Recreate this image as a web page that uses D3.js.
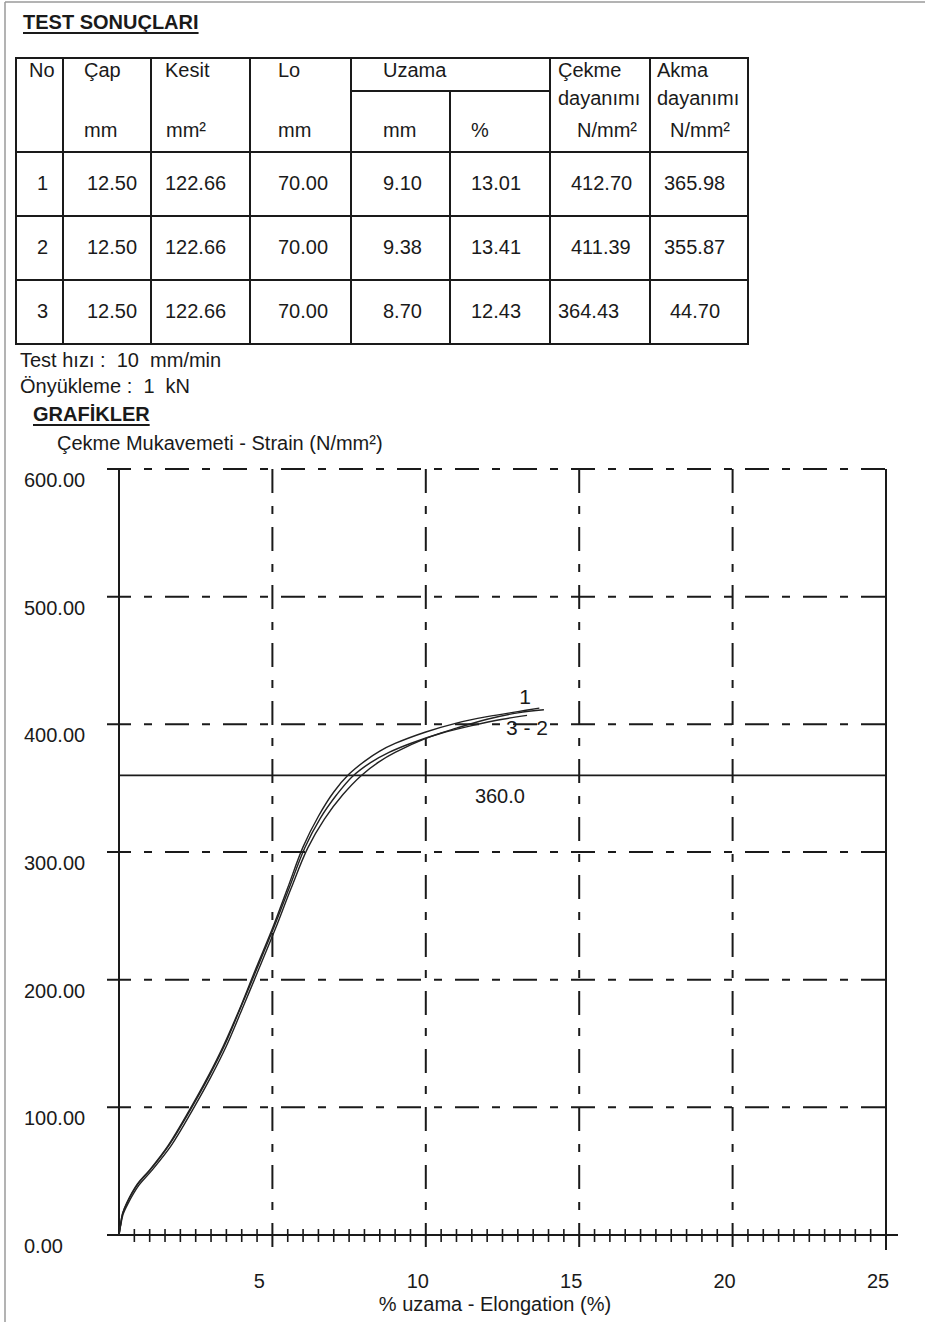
<!DOCTYPE html>
<html>
<head>
<meta charset="utf-8">
<script src="https://cdn.jsdelivr.net/npm/d3@7"></script>
<style>
  html, body { margin: 0; padding: 0; background: #fff; }
  svg { display: block; font-family: "Liberation Sans", Arial, sans-serif; }
</style>
</head>
<body>
<svg id="page" width="925" height="1322"></svg>
<script>
// ---- Test results table ----
const specimenNo   = ["1", "2", "3"];
const diameterMm   = ["12.50", "12.50", "12.50"];
const sectionMm2   = ["122.66", "122.66", "122.66"];
const gaugeLenMm   = ["70.00", "70.00", "70.00"];
const elongMm      = ["9.10", "9.38", "8.70"];
const elongPct     = ["13.01", "13.41", "12.43"];
const tensileStr   = ["412.70", "411.39", "364.43"];
const yieldStr     = ["365.98", "355.87", "44.70"];

// ---- Chart axes ----
const yTicks = [0, 100, 200, 300, 400, 500, 600];
const xTicks = [5, 10, 15, 20, 25];
const refLineValue = 360;

// ---- Stress (N/mm²) vs elongation (%) curves ----
const curve1 = [[0,0],[0.05,8],[0.12,17],[0.25,25],[0.6,40],[1.0,51],[1.6,70],[2.3,98],[2.9,124],[3.4,148],[4.0,181],[4.4,205],[5.0,240],[5.5,272],[6.0,304],[6.5,328],[7.0,347],[7.5,361],[8.0,371],[8.5,379],[9.0,385],[10.0,394],[11.0,401],[12.0,406],[13.0,410],[13.7,412.7]];
const curve2 = [[0,0],[0.05,7],[0.13,16],[0.28,24],[0.65,39],[1.05,50],[1.7,70],[2.4,98],[3.0,124],[3.5,148],[4.1,182],[4.5,205],[5.1,240],[5.6,271],[6.15,303],[6.7,326],[7.3,345],[7.9,360],[8.5,371],[9.0,378],[10.0,389],[11.0,397],[12.0,404],[13.0,409],[13.85,411.4]];
const curve3 = [[0,0],[0.05,8],[0.12,17],[0.26,25],[0.62,40],[1.02,51],[1.65,71],[2.35,99],[2.95,125],[3.45,149],[4.05,183],[4.45,206],[5.05,241],[5.55,272],[6.05,303],[6.55,326],[7.1,345],[7.6,359],[8.2,370],[8.8,378],[9.5,385],[10.5,393],[11.5,399],[12.5,404],[13.3,407]];

const svg = d3.select("#page");
const ink = "#1a1a1a";
const fs = 20;

// page frame (left and top edges)
svg.append("line").attr("x1", 5).attr("y1", 2).attr("x2", 925).attr("y2", 2).attr("stroke", "#9a9a9a").attr("stroke-width", 1.5);
svg.append("line").attr("x1", 5).attr("y1", 2).attr("x2", 5).attr("y2", 1322).attr("stroke", "#9a9a9a").attr("stroke-width", 1.5);

// heading
function underlinedBold(txt, x, yb) {
  const t = svg.append("text").attr("x", x).attr("y", yb).attr("font-size", fs)
    .attr("font-weight", "bold").attr("fill", ink).text(txt);
  const w = t.node().getComputedTextLength();
  svg.append("line").attr("x1", x).attr("x2", x + w).attr("y1", yb + 4).attr("y2", yb + 4)
    .attr("stroke", ink).attr("stroke-width", 2);
}
underlinedBold("TEST SONUÇLARI", 23, 29);

// ---- table ----
const colX = [16, 63, 151, 250, 351, 450, 550, 650, 748];
const tTop = 58, tSplit = 91, tHead = 152, rowH = 64;
const tBottom = tHead + rowH * specimenNo.length;
const tg = svg.append("g").attr("stroke", ink).attr("stroke-width", 2);
tg.append("rect").attr("x", colX[0]).attr("y", tTop).attr("width", colX[8] - colX[0]).attr("height", tBottom - tTop).attr("fill", "none");
colX.slice(1, 8).forEach((cx, i) => {
  const top = (i + 1 === 5) ? tSplit : tTop;
  tg.append("line").attr("x1", cx).attr("x2", cx).attr("y1", top).attr("y2", tBottom);
});
tg.append("line").attr("x1", colX[4]).attr("x2", colX[6]).attr("y1", tSplit).attr("y2", tSplit);
d3.range(specimenNo.length).forEach(i => {
  const yy = tHead + rowH * i;
  tg.append("line").attr("x1", colX[0]).attr("x2", colX[8]).attr("y1", yy).attr("y2", yy);
});

const headTexts = [
  ["No", 29, 77], ["Çap", 84, 77], ["Kesit", 165, 77], ["Lo", 278, 77], ["Uzama", 383, 77],
  ["Çekme", 558, 77], ["dayanımı", 558, 105], ["Akma", 657, 77], ["dayanımı", 657, 105],
  ["mm", 84, 137], ["mm²", 166, 137], ["mm", 278, 137], ["mm", 383, 137], ["%", 471, 137],
  ["N/mm²", 577, 137], ["N/mm²", 670, 137]
];
svg.append("g").selectAll("text").data(headTexts).join("text")
  .attr("x", d => d[1]).attr("y", d => d[2]).attr("font-size", fs).attr("fill", ink).text(d => d[0]);

const columns = [specimenNo, diameterMm, sectionMm2, gaugeLenMm, elongMm, elongPct, tensileStr, yieldStr];
const dataLeft = [37, 87, 165, 278, 383, 471, 571, 664];
columns.forEach((col, c) => {
  col.forEach((v, r) => {
    let xx = dataLeft[c];
    if (r === 2 && c === 6) xx = 558;
    if (r === 2 && c === 7) xx = 670;
    svg.append("text").attr("x", xx).attr("y", tHead + rowH * r + 38)
      .attr("font-size", fs).attr("fill", ink).text(v);
  });
});

// test parameters
svg.append("text").attr("x", 20).attr("y", 367).attr("font-size", fs).attr("fill", ink).attr("xml:space", "preserve").text("Test hızı :  10  mm/min");
svg.append("text").attr("x", 20).attr("y", 393).attr("font-size", fs).attr("fill", ink).attr("xml:space", "preserve").text("Önyükleme :  1  kN");
underlinedBold("GRAFİKLER", 33, 421);
svg.append("text").attr("x", 57).attr("y", 450).attr("font-size", fs).attr("fill", ink).text("Çekme Mukavemeti - Strain (N/mm²)");

// ---- chart ----
const x = d3.scaleLinear().domain([0, 25]).range([119, 886]);
const y = d3.scaleLinear().domain([0, 600]).range([1235, 469]);
const gridDash = "24,13,8,13";
const ext = 12;

const grid = svg.append("g").attr("stroke", ink).attr("stroke-width", 2).attr("fill", "none");
// horizontal dashed grid (100 .. 600)
yTicks.filter(v => v > 0).forEach(v => {
  grid.append("line").attr("x1", x(0) - ext).attr("x2", x(25) + ext)
    .attr("y1", y(v)).attr("y2", y(v)).attr("stroke-dasharray", gridDash);
});
// vertical dashed grid (5 .. 20)
xTicks.filter(v => v < 25).forEach(v => {
  grid.append("line").attr("x1", x(v)).attr("x2", x(v))
    .attr("y1", y(600)).attr("y2", y(0) + 15).attr("stroke-dasharray", gridDash);
});
// solid frame: y axis, right edge, x axis
grid.append("line").attr("x1", x(0)).attr("x2", x(0)).attr("y1", y(600)).attr("y2", y(0));
grid.append("line").attr("x1", x(25)).attr("x2", x(25)).attr("y1", y(600)).attr("y2", y(0) + 15);
grid.append("line").attr("x1", x(0) - ext).attr("x2", x(25) + ext).attr("y1", y(0)).attr("y2", y(0));

// minor ticks every 0.5 %
const minor = d3.range(0.5, 25, 0.5).filter(v => v % 5 !== 0);
grid.selectAll(".minor").data(minor).join("line").attr("class", "minor")
  .attr("x1", d => x(d)).attr("x2", d => x(d)).attr("y1", y(0) - 6).attr("y2", y(0) + 7)
  .attr("stroke-width", 1.6);

// axis labels
svg.append("g").selectAll("text").data(yTicks).join("text")
  .attr("x", 24).attr("y", d => y(d) + 18).attr("font-size", fs).attr("fill", ink)
  .text(d => d.toFixed(2));
svg.append("g").selectAll("text").data(xTicks).join("text")
  .attr("x", d => x(d) - (d < 10 ? 13 : 8)).attr("y", 1288).attr("text-anchor", "middle")
  .attr("font-size", fs).attr("fill", ink).text(d => d);
svg.append("text").attr("x", 495).attr("y", 1311).attr("text-anchor", "middle")
  .attr("font-size", fs).attr("fill", ink).text("% uzama - Elongation (%)");

// reference line
svg.append("line").attr("x1", x(0)).attr("x2", x(25)).attr("y1", y(refLineValue)).attr("y2", y(refLineValue))
  .attr("stroke", ink).attr("stroke-width", 1.6);
svg.append("text").attr("x", x(11.6)).attr("y", y(refLineValue) + 28).attr("font-size", fs)
  .attr("fill", ink).text(refLineValue.toFixed(1));

// curves
const line = d3.line().x(d => x(d[0])).y(d => y(d[1])).curve(d3.curveCatmullRom.alpha(0.5));
[curve1, curve2, curve3].forEach(c => {
  svg.append("path").datum(c).attr("d", line).attr("fill", "none")
    .attr("stroke", "#222").attr("stroke-width", 1.4);
});

// curve labels
const end1 = curve1[curve1.length - 1];
const end2 = curve2[curve2.length - 1];
svg.append("text").attr("x", x(end1[0]) - 20).attr("y", y(end1[1]) - 4)
  .attr("font-size", 21).attr("fill", ink).text("1");
svg.append("text").attr("x", x(end2[0]) - 38).attr("y", y(end2[1]) + 25)
  .attr("font-size", 21).attr("fill", ink).attr("xml:space", "preserve").text("3 - 2");
</script>
</body>
</html>
